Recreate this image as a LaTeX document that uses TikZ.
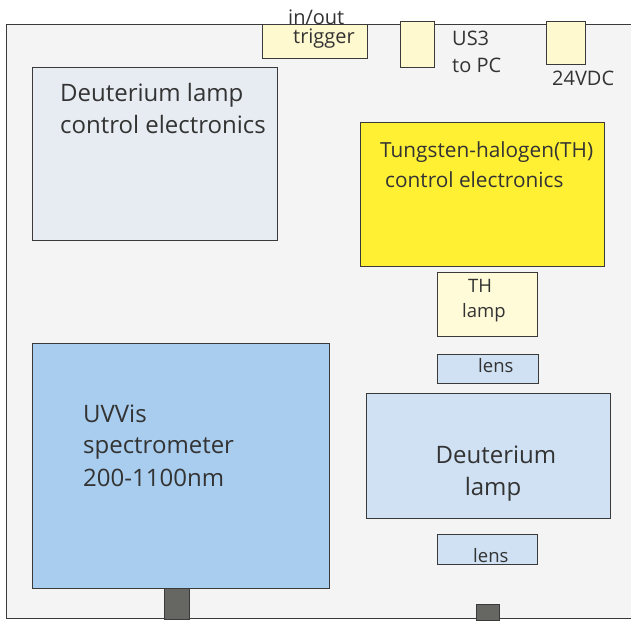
\documentclass[tikz,border=0pt]{standalone}
\usepackage{fontspec}
\setmainfont{Open Sans}
\definecolor{bgout}{HTML}{F4F4F4}
\definecolor{edge}{HTML}{3A3A3A}
\definecolor{txt}{HTML}{333333}
\definecolor{dctrl}{HTML}{E6ECF2}
\definecolor{uvvis}{HTML}{A9CDEF}
\definecolor{dlamp}{HTML}{CFE1F3}
\definecolor{thctrl}{HTML}{FFF033}
\definecolor{thlamp}{HTML}{FFFBD8}
\definecolor{port}{HTML}{FFF9D0}
\definecolor{plug}{HTML}{666662}
\begin{document}
\begin{tikzpicture}[x=1pt,y=-1pt,
  box/.style={draw=edge,line width=1.4pt,inner sep=0pt,anchor=north west},
  big/.style={text=txt,inner sep=0pt,anchor=base west,font=\fontsize{24}{28}\selectfont},
  mid/.style={text=txt,inner sep=0pt,anchor=base west,font=\fontsize{20.8}{24}\selectfont},
  small/.style={text=txt,inner sep=0pt,anchor=base west,font=\fontsize{18.5}{22}\selectfont},
  port/.style={text=txt,inner sep=0pt,anchor=base west,font=\fontsize{20}{22}\selectfont}]
\clip (0,0) rectangle (631,622);
\fill[white] (0,0) rectangle (631,622);
% outer housing
\node[box,fill=bgout,minimum width=634pt,minimum height=594pt] (housing) at (6,24) {};
% ports on top
\node[box,fill=port,minimum width=105pt,minimum height=34pt] (trig) at (262,24) {};
\node[box,fill=port,minimum width=34pt,minimum height=46pt] (usb) at (400,21) {};
\node[box,fill=port,minimum width=39pt,minimum height=43pt] (pwr) at (546,21) {};
% plugs at bottom
\node[box,fill=plug,minimum width=25pt,minimum height=31pt] (plugA) at (164,588) {};
\node[box,fill=plug,minimum width=23pt,minimum height=16pt] (plugB) at (476,604) {};
% inner blocks
\node[box,fill=dctrl,minimum width=245pt,minimum height=173pt] (dctrl) at (32,67) {};
\node[box,fill=thctrl,minimum width=244pt,minimum height=144pt] (thctrl) at (360,122) {};
\node[box,fill=thlamp,minimum width=100pt,minimum height=64pt] (thlamp) at (437,272) {};
\node[box,fill=dlamp,minimum width=101pt,minimum height=29pt] (lensA) at (437,354) {};
\node[box,fill=uvvis,minimum width=297pt,minimum height=245pt] (uvvis) at (32,343) {};
\node[box,fill=dlamp,minimum width=244pt,minimum height=125pt] (dlamp) at (366,393) {};
\node[box,fill=dlamp,minimum width=100pt,minimum height=30pt] (lensB) at (437,534) {};
% texts
\node[big] (t1) at (60,101) {Deuterium lamp};
\node[big] (t2) at (60,133) {control electronics};
\node[mid] (t3) at (380,157) {Tungsten-halogen(TH)};
\node[mid] (t4) at (385,187) {control electronics};
\node[small] (t5) at (468,292) {TH};
\node[small] (t6) at (462,317) {lamp};
\node[small] (t7) at (478,372) {lens};
\node[big] (t8) at (83,422) {UVVis};
\node[big] (t9) at (83,453) {spectrometer};
\node[big] (t10) at (83,486) {200-1100nm};
\node[big,anchor=base] (t11) at (496,463) {Deuterium};
\node[big,anchor=base] (t12) at (493,495) {lamp};
\node[small] (t13) at (473,562) {lens};
\node[port] (t14) at (288,24) {in/out};
\node[port] (t15) at (293,43) {trigger};
\node[port] (t16) at (452,45) {US3};
\node[port] (t17) at (452,72) {to PC};
\node[port] (t18) at (552,85) {24VDC};
\end{tikzpicture}
\end{document}
